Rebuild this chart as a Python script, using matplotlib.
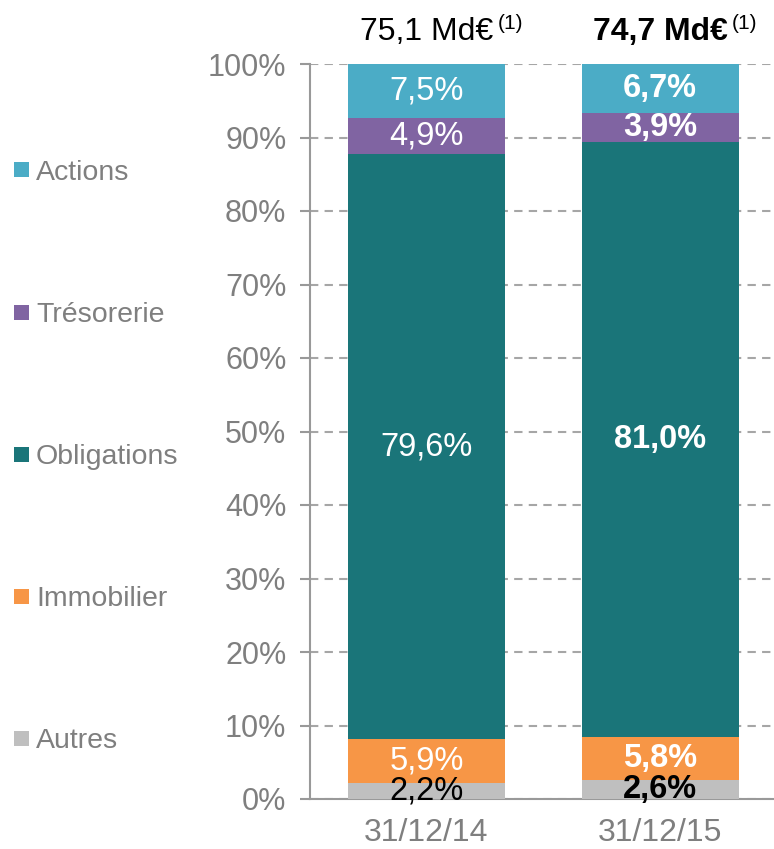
import matplotlib
matplotlib.use("Agg")
import matplotlib.pyplot as plt
from matplotlib.patches import Rectangle
import numpy as np

plt.rcParams['font.family'] = ['Liberation Sans', 'DejaVu Sans']

categories = ["31/12/14", "31/12/15"]
series = ["Autres", "Immobilier", "Obligations", "Trésorerie", "Actions"]
autres = [2.2, 2.6]
immobilier = [5.9, 5.8]
obligations = [79.6, 81.0]
tresorerie = [4.9, 3.9]
actions = [7.5, 6.7]
totals = ["75,1 Md€", "74,7 Md€"]
values = [autres, immobilier, obligations, tresorerie, actions]
colors = ["#BFBFBF", "#F79646", "#1A7579", "#8064A2", "#4BACC6"]
label_colors = ["black", "white", "white", "white", "white"]

fig = plt.figure(figsize=(7.74, 8.49), dpi=100)
ax = fig.add_axes([310/774, 1-799/849, 464/774, 735/849])

x = np.arange(len(categories))
width = 0.672
bottom = np.zeros(len(categories))
for vals, col, lc in zip(values, colors, label_colors):
    v = np.array(vals)
    ax.bar(x, v, width, bottom=bottom, color=col, edgecolor='none', zorder=3)
    for i in range(len(categories)):
        ax.text(x[i], bottom[i] + v[i]/2, f"{v[i]:.1f}%".replace('.', ','),
                ha='center', va='center', fontsize=23.5, color=lc,
                fontweight='bold' if i == 1 else 'normal', zorder=4)
    bottom += v

ax.set_xlim(-0.499, 1.488)
ax.set_ylim(0, 100)
ax.set_yticks(np.arange(0, 101, 10))
ax.set_yticklabels([f"{t}%" for t in range(0, 101, 10)])
ax.set_xticks(x)
ax.set_xticklabels(categories)
ax.tick_params(axis='y', labelsize=22, labelcolor='#7F7F7F', color='#999999',
               length=7, width=1.5, pad=10)
ax.tick_params(axis='x', labelsize=23, labelcolor='#7F7F7F', length=0, pad=14)
ax.yaxis.grid(True, linestyle=(0, (4, 3)), color='#A6A6A6', linewidth=1.5, zorder=0)
ax.set_axisbelow(True)
for s in ['top', 'right']:
    ax.spines[s].set_visible(False)
for s in ['left', 'bottom']:
    ax.spines[s].set_color('#999999')
    ax.spines[s].set_linewidth(1.5)

# Totals above bars
trans = matplotlib.transforms.blended_transform_factory(ax.transData, ax.transAxes)
for i, t in enumerate(totals):
    txt = ax.text(x[i], (799-32)/735, t, transform=trans, ha='center', va='center',
                  fontsize=23, color='black', fontweight='bold' if i == 1 else 'normal')
    ax.annotate("(1)", xy=(1, 1), xycoords=txt, xytext=(3, 2),
                textcoords='offset points', ha='left', va='top', fontsize=15, color='black')

# Legend (manual, left side)
legend_y = [738, 596, 454, 312, 170]
for name, col, yy in zip(series, colors, legend_y):
    fig.patches.append(Rectangle((14/774, 1-(yy+7.5)/849), 15/774, 15/849,
                                 transform=fig.transFigure, facecolor=col, edgecolor='none'))
    fig.text(36/774, 1-(yy+3)/849, name, ha='left', va='center', fontsize=20.5, color='#7F7F7F')

fig.savefig("out.png", dpi=100)
